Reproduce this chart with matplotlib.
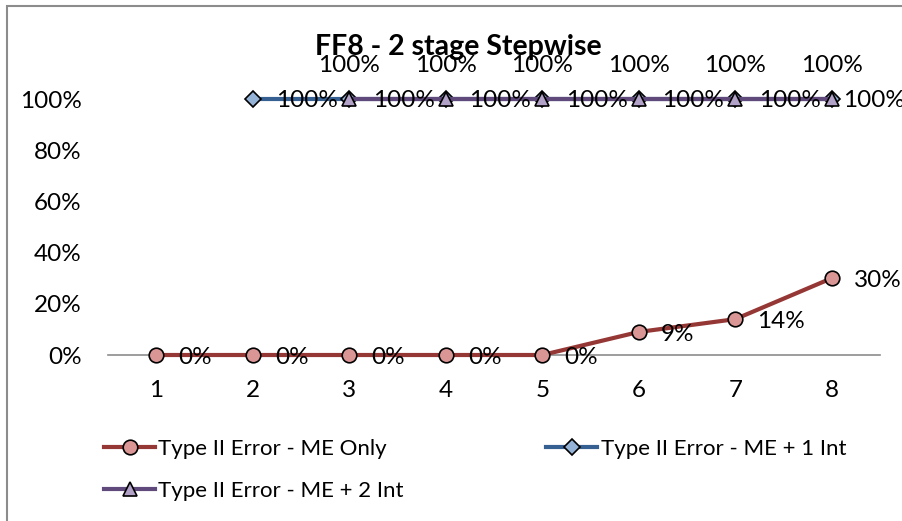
import matplotlib
matplotlib.use("Agg")
import matplotlib.pyplot as plt
from matplotlib.patches import Rectangle

plt.rcParams['font.family'] = ['Lato', 'DejaVu Sans']

# Data
x_me = [1, 2, 3, 4, 5, 6, 7, 8]
y_me = [0.0, 0.0, 0.0, 0.0, 0.0, 0.09, 0.14, 0.30]
x_1int = [2, 3, 4, 5, 6, 7, 8]
y_1int = [1.0, 1.0, 1.0, 1.0, 1.0, 1.0, 1.0]
x_2int = [3, 4, 5, 6, 7, 8]
y_2int = [1.0, 1.0, 1.0, 1.0, 1.0, 1.0]
x_ticks = [1, 2, 3, 4, 5, 6, 7, 8]
y_ticks = [0.0, 0.2, 0.4, 0.6, 0.8, 1.0]
y_tick_labels = ['0%', '20%', '40%', '60%', '80%', '100%']
title = 'FF8 - 2 stage Stepwise'
labels = ['Type II Error - ME Only', 'Type II Error - ME + 1 Int', 'Type II Error - ME + 2 Int']

W, H = 902, 521
fig = plt.figure(figsize=(W / 100, H / 100), dpi=100)
fig.patch.set_facecolor('white')
# outer border (left/top visible)
fig.add_artist(Rectangle((7 / W, -0.05), 1.2, 1 - 6 / H + 0.05, transform=fig.transFigure,
                         fill=False, edgecolor='#8c8c8c', linewidth=1.5))

ax = fig.add_axes([108 / W, 1 - 355 / H, (880 - 108) / W, (355 - 99) / H])

l1, = ax.plot(x_me, y_me, color='#953735', linewidth=3.0, marker='o', markersize=10.5,
              markerfacecolor='#D99694', markeredgecolor='black', markeredgewidth=1.2,
              label=labels[0], clip_on=False, zorder=3)
l2, = ax.plot(x_1int, y_1int, color='#376092', linewidth=3.0, marker='D', markersize=8,
              markerfacecolor='#95B3D7', markeredgecolor='black', markeredgewidth=1.2,
              label=labels[1], clip_on=False, zorder=3)
l3, = ax.plot(x_2int, y_2int, color='#604A7B', linewidth=3.0, marker='^', markersize=9.5,
              markerfacecolor='#B3A2C7', markeredgecolor='black', markeredgewidth=1.2,
              label=labels[2], clip_on=False, zorder=4)

fs = 17.5
for xv, yv in zip(x_me, y_me):
    ax.annotate(f'{yv*100:.0f}%', (xv, yv), xytext=(16, -2), textcoords='offset points',
                ha='left', va='center', fontsize=fs, annotation_clip=False, zorder=5)
for i, (xv, yv) in enumerate(zip(x_1int, y_1int)):
    dx = 8 if i == len(x_1int) - 1 else 17   # last label pushed in to stay inside the chart
    ax.annotate(f'{yv*100:.0f}%', (xv, yv), xytext=(dx, -1), textcoords='offset points',
                ha='left', va='center', fontsize=fs, annotation_clip=False, zorder=5)
for xv, yv in zip(x_2int, y_2int):
    ax.annotate(f'{yv*100:.0f}%', (xv, yv), xytext=(0, 24), textcoords='offset points',
                ha='center', va='center', fontsize=fs, annotation_clip=False, zorder=5)

ax.set_xlim(0.5, 8.5)
ax.set_ylim(0, 1.0)
ax.set_xticks(x_ticks)
ax.set_xticklabels([str(v) for v in x_ticks], fontsize=fs)
ax.set_yticks(y_ticks)
ax.set_yticklabels(y_tick_labels, fontsize=fs)
ax.tick_params(axis='x', length=0, pad=18)
ax.tick_params(axis='y', length=0, pad=19)
for s in ['top', 'right', 'left']:
    ax.spines[s].set_visible(False)
ax.spines['bottom'].set_color('#8c8c8c')
ax.spines['bottom'].set_linewidth(1.2)
ax.spines['bottom'].set_zorder(1)

fig.text(458 / W, 1 - 47 / H, title, ha='center', va='center', fontsize=20.5, fontweight='bold')

fig.legend(handles=[l1, l3, l2], labels=[labels[0], labels[2], labels[1]], ncol=2,
           frameon=False, fontsize=16,
           loc='upper left', bbox_to_anchor=(84 / W, 1 - 419 / H),
           handlelength=2.3, handletextpad=0.15, columnspacing=6.4, labelspacing=0.98)

fig.savefig('out.png', dpi=100)
